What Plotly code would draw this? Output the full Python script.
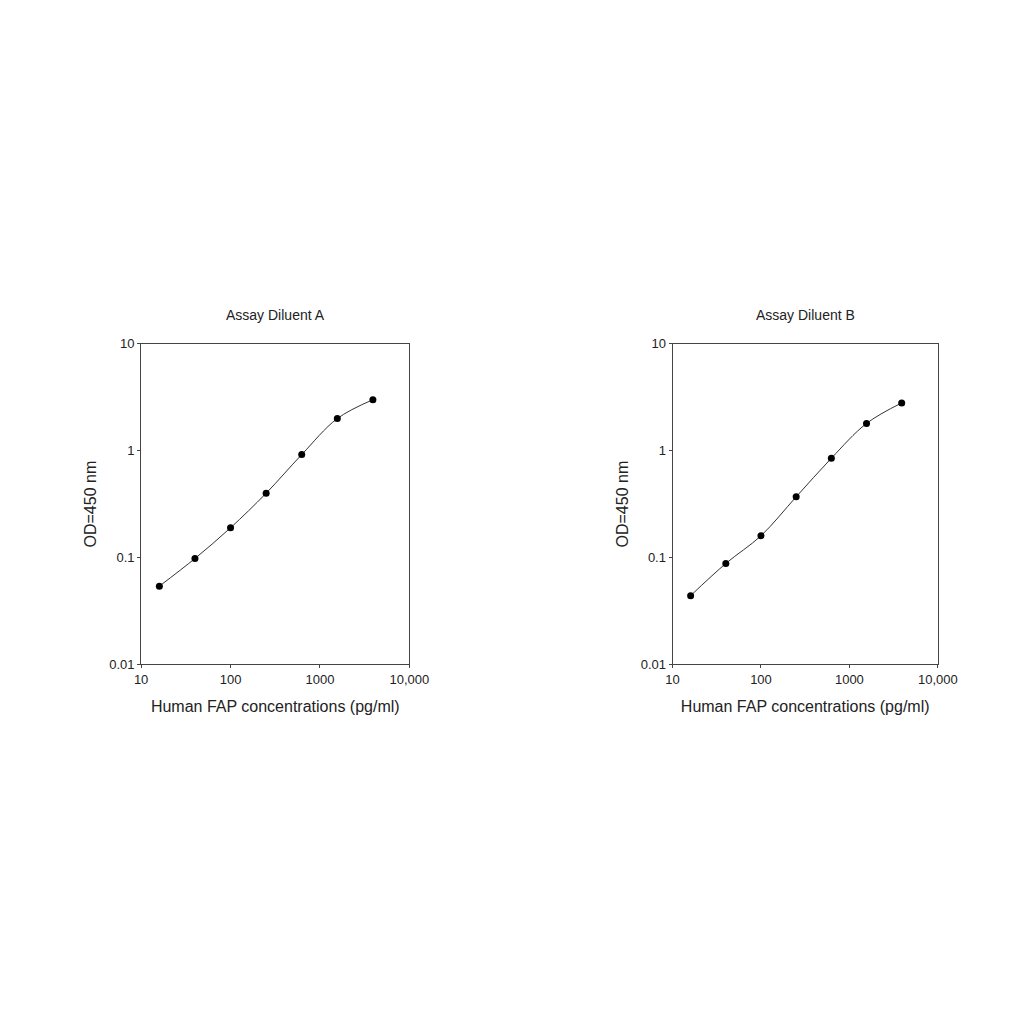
import plotly.graph_objects as go
from plotly.subplots import make_subplots

conc = [16, 40, 100, 250, 625, 1562, 3906]
od_a = [0.054, 0.098, 0.19, 0.40, 0.92, 2.0, 3.0]
od_b = [0.044, 0.088, 0.16, 0.37, 0.85, 1.8, 2.8]
titles = ["Assay Diluent A", "Assay Diluent B"]
xtick_vals = [10, 100, 1000, 10000]
xtick_text = ["10", "100", "1000", "10,000"]
ytick_vals = [0.01, 0.1, 1, 10]
ytick_text = ["0.01", "0.1", "1", "10"]

xdomains = [[0.130, 0.392], [0.649, 0.908]]
ydomain = [0.359, 0.672]

fig = make_subplots(rows=1, cols=2)
for i, od in enumerate([od_a, od_b]):
    fig.add_trace(go.Scatter(x=conc, y=od, mode="lines+markers",
                             line=dict(color="#333", width=1, shape="spline"),
                             marker=dict(color="black", size=7), showlegend=False),
                  row=1, col=i + 1)
    fig.update_xaxes(type="log", range=[1, 4], tickvals=xtick_vals, ticktext=xtick_text,
                     domain=xdomains[i], automargin=False,
                     showline=True, mirror=True, linecolor="#444", ticks="outside", ticklen=3,
                     showgrid=False, title_text="Human FAP concentrations (pg/ml)",
                     title_standoff=14, row=1, col=i + 1)
    fig.update_yaxes(type="log", range=[-2, 1], tickvals=ytick_vals, ticktext=ytick_text,
                     domain=ydomain, automargin=False,
                     showline=True, mirror=True, linecolor="#444", ticks="outside", ticklen=3,
                     showgrid=False, title_text="OD=450 nm", title_standoff=8, row=1, col=i + 1)

fig.add_annotation(text=titles[0], x=0.5, xref="x domain", y=1.12, yref="y domain",
                   showarrow=False, font=dict(size=14))
fig.add_annotation(text=titles[1], x=0.5, xref="x2 domain", y=1.12, yref="y2 domain",
                   showarrow=False, font=dict(size=14))

fig.update_layout(width=1024, height=1024, plot_bgcolor="white", paper_bgcolor="white",
                  font=dict(family="Liberation Sans, Arial", size=13, color="#222"),
                  margin=dict(l=0, r=0, t=0, b=0))
fig.write_html("out.html")
